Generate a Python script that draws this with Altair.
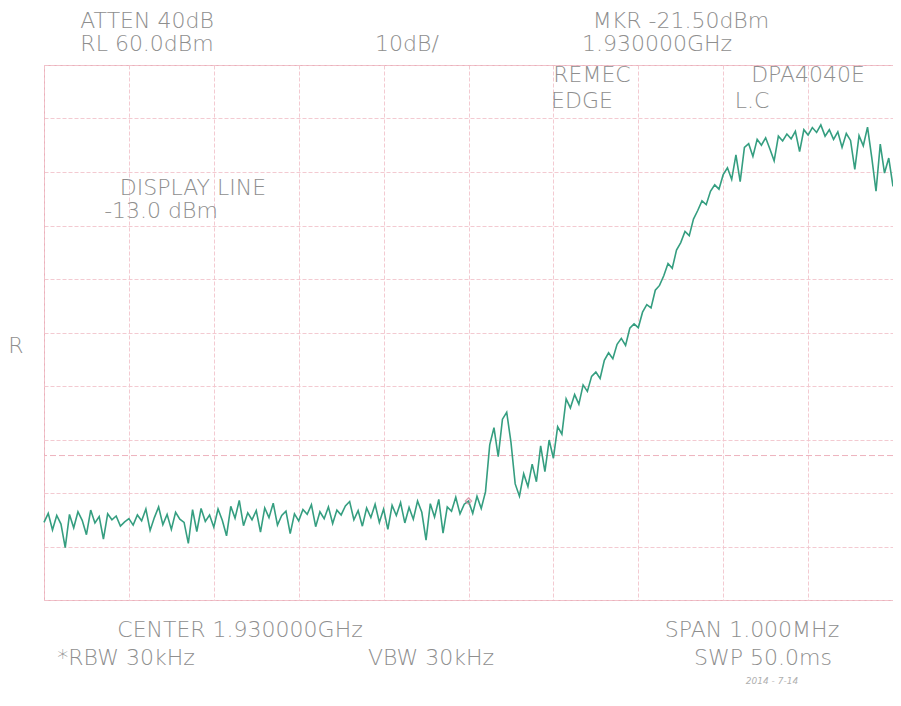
import altair as alt
import pandas as pd

# Frequency offsets from centre (kHz), 5 kHz steps over the 1 MHz span
freq_khz = list(range(-500, 505, 5))

# Trace level in dBm
level_dbm = [
    -25.5, -23.8, -26.9, -24.2, -25.8, -30.2, -24.0, -26.5, -23.5, -25.1,
    -27.8, -23.2, -25.6, -24.4, -28.6, -23.9, -25.0, -24.3, -26.2, -25.4,
    -24.8, -26.0, -24.1, -25.2, -23.0, -27.0, -24.6, -22.6, -25.9, -24.0,
    -26.8, -23.6, -24.9, -25.5, -29.4, -23.1, -27.2, -22.9, -25.3, -24.1,
    -26.4, -23.0, -25.1, -28.0, -22.5, -24.7, -21.4, -26.1, -23.7, -25.0,
    -23.3, -27.3, -22.8, -24.6, -21.9, -26.0, -24.2, -23.4, -27.6, -23.9,
    -25.2, -23.1, -24.0, -22.2, -26.3, -23.5, -24.8, -22.6, -25.7, -23.2,
    -24.1, -22.4, -21.6, -25.0, -23.3, -26.2, -22.8, -24.6, -22.1, -25.5,
    -23.0, -26.8, -22.3, -24.2, -21.8, -25.6, -22.7, -24.9, -21.5, -23.6,
    -28.8, -22.0, -24.5, -21.2, -27.5, -22.6, -23.4, -20.8, -23.9, -22.1,
    -21.5, -23.8, -20.6, -22.9, -19.8, -11.0, -7.8, -13.2, -6.2, -4.9,
    -10.5, -18.3, -20.6, -16.4, -18.8, -14.6, -17.9, -11.2, -16.0, -10.1,
    -13.5, -7.6, -9.0, -2.4, -4.1, -1.6, -3.4, 0.2, -1.0, 1.8,
    2.6, 1.4, 4.8, 6.2, 5.1, 7.8, 8.9, 7.6, 10.8, 11.6,
    10.9, 13.8, 15.2, 14.6, 17.9, 18.8, 20.6, 22.9, 22.0, 25.4,
    26.8, 28.9, 28.1, 31.2, 32.8, 34.6, 33.9, 36.4, 37.6, 36.8,
    39.5, 40.8, 38.6, 43.2, 38.2, 44.6, 45.3, 42.9, 46.1, 45.0,
    46.4, 44.3, 42.1, 46.7, 45.8, 47.1, 46.2, 47.6, 43.8, 47.9,
    46.9, 48.3, 47.4, 48.8, 46.7, 47.9, 46.1, 47.5, 44.6, 47.2,
    45.9, 40.5, 46.8, 44.9, 48.4, 42.7, 36.4, 45.2, 39.8, 42.6,
    37.3,
]

marker_freq = [0]
marker_dbm = [-21.5]
display_line_dbm = [-13.0]

x_ticks = list(range(-500, 501, 100))
y_ticks = list(range(-40, 61, 10))

trace_df = pd.DataFrame({"f": freq_khz, "dbm": level_dbm})
marker_df = pd.DataFrame({"f": marker_freq, "dbm": marker_dbm})
dl_df = pd.DataFrame({"dbm": display_line_dbm})

X0, Y0 = 44, 65  # plot origin on the page
PW, PH = 849, 535

xs = alt.Scale(domain=[-500, 500], nice=False, zero=False)
ys = alt.Scale(domain=[-40, 60], nice=False, zero=False)
xax = alt.Axis(values=x_ticks, grid=True, labels=False, ticks=False, domain=False, title=None)
yax = alt.Axis(values=y_ticks, grid=True, labels=False, ticks=False, domain=False, title=None)

TEXT_COLOR = "#8e8e8e"
FONT = "DejaVu Sans"


def label(txt, cx, baseline_y, size=22, color=TEXT_COLOR, style="normal"):
    return alt.Chart(alt.Data(values=[{}])).mark_text(
        align="center", baseline="alphabetic", font=FONT, fontSize=size,
        fontWeight=200, color=color, fontStyle=style,
    ).encode(
        x=alt.value(cx - X0), y=alt.value(baseline_y - Y0), text=alt.value(txt)
    )


trace = alt.Chart(trace_df).mark_line(color="#359e80", strokeWidth=1.6).encode(
    x=alt.X("f:Q", scale=xs, axis=xax),
    y=alt.Y("dbm:Q", scale=ys, axis=yax),
)

dline = alt.Chart(dl_df).mark_rule(color="#eeb2bd", strokeWidth=1, strokeDash=[6, 3]).encode(
    y=alt.Y("dbm:Q", scale=ys)
)

marker = alt.Chart(marker_df).mark_point(
    shape="diamond", size=40, color="#d2788f", filled=False, strokeWidth=1.2
).encode(x=alt.X("f:Q", scale=xs), y=alt.Y("dbm:Q", scale=ys))

labels = [
    label("ATTEN 40dB", 147, 28),
    label("RL 60.0dBm", 147, 51),
    label("10dB/", 407, 51),
    label("MKR -21.50dBm", 681, 28),
    label("1.930000GHz", 657, 51),
    label("REMEC", 592, 82),
    label("DPA4040E", 808, 82),
    label("EDGE", 582, 108),
    label("L.C", 752, 108),
    label("DISPLAY LINE", 193, 195),
    label("-13.0 dBm", 161, 218),
    label("R", 16, 353),
    label("CENTER 1.930000GHz", 240, 637),
    label("*RBW 30kHz", 126, 665),
    label("VBW 30kHz", 431, 665),
    label("SPAN 1.000MHz", 752, 637),
    label("SWP 50.0ms", 763, 665),
    label("2014 - 7-14", 772, 684, size=9, color="#b0b0b0", style="italic"),
]

chart = alt.layer(dline, trace, marker, *labels).properties(
    width=PW, height=PH,
    background="white",
    autosize=alt.AutoSizeParams(type="none"),
    padding={"left": X0 - 8, "top": Y0 - 8, "right": 0, "bottom": 90},
).configure_view(
    stroke="#eab0ba", strokeWidth=1
).configure_axis(
    gridColor="#f2c4cc", gridWidth=1, gridDash=[4, 2], gridOpacity=0.9
)

chart.save("out.html", embed_options={"renderer": "svg", "actions": False})
